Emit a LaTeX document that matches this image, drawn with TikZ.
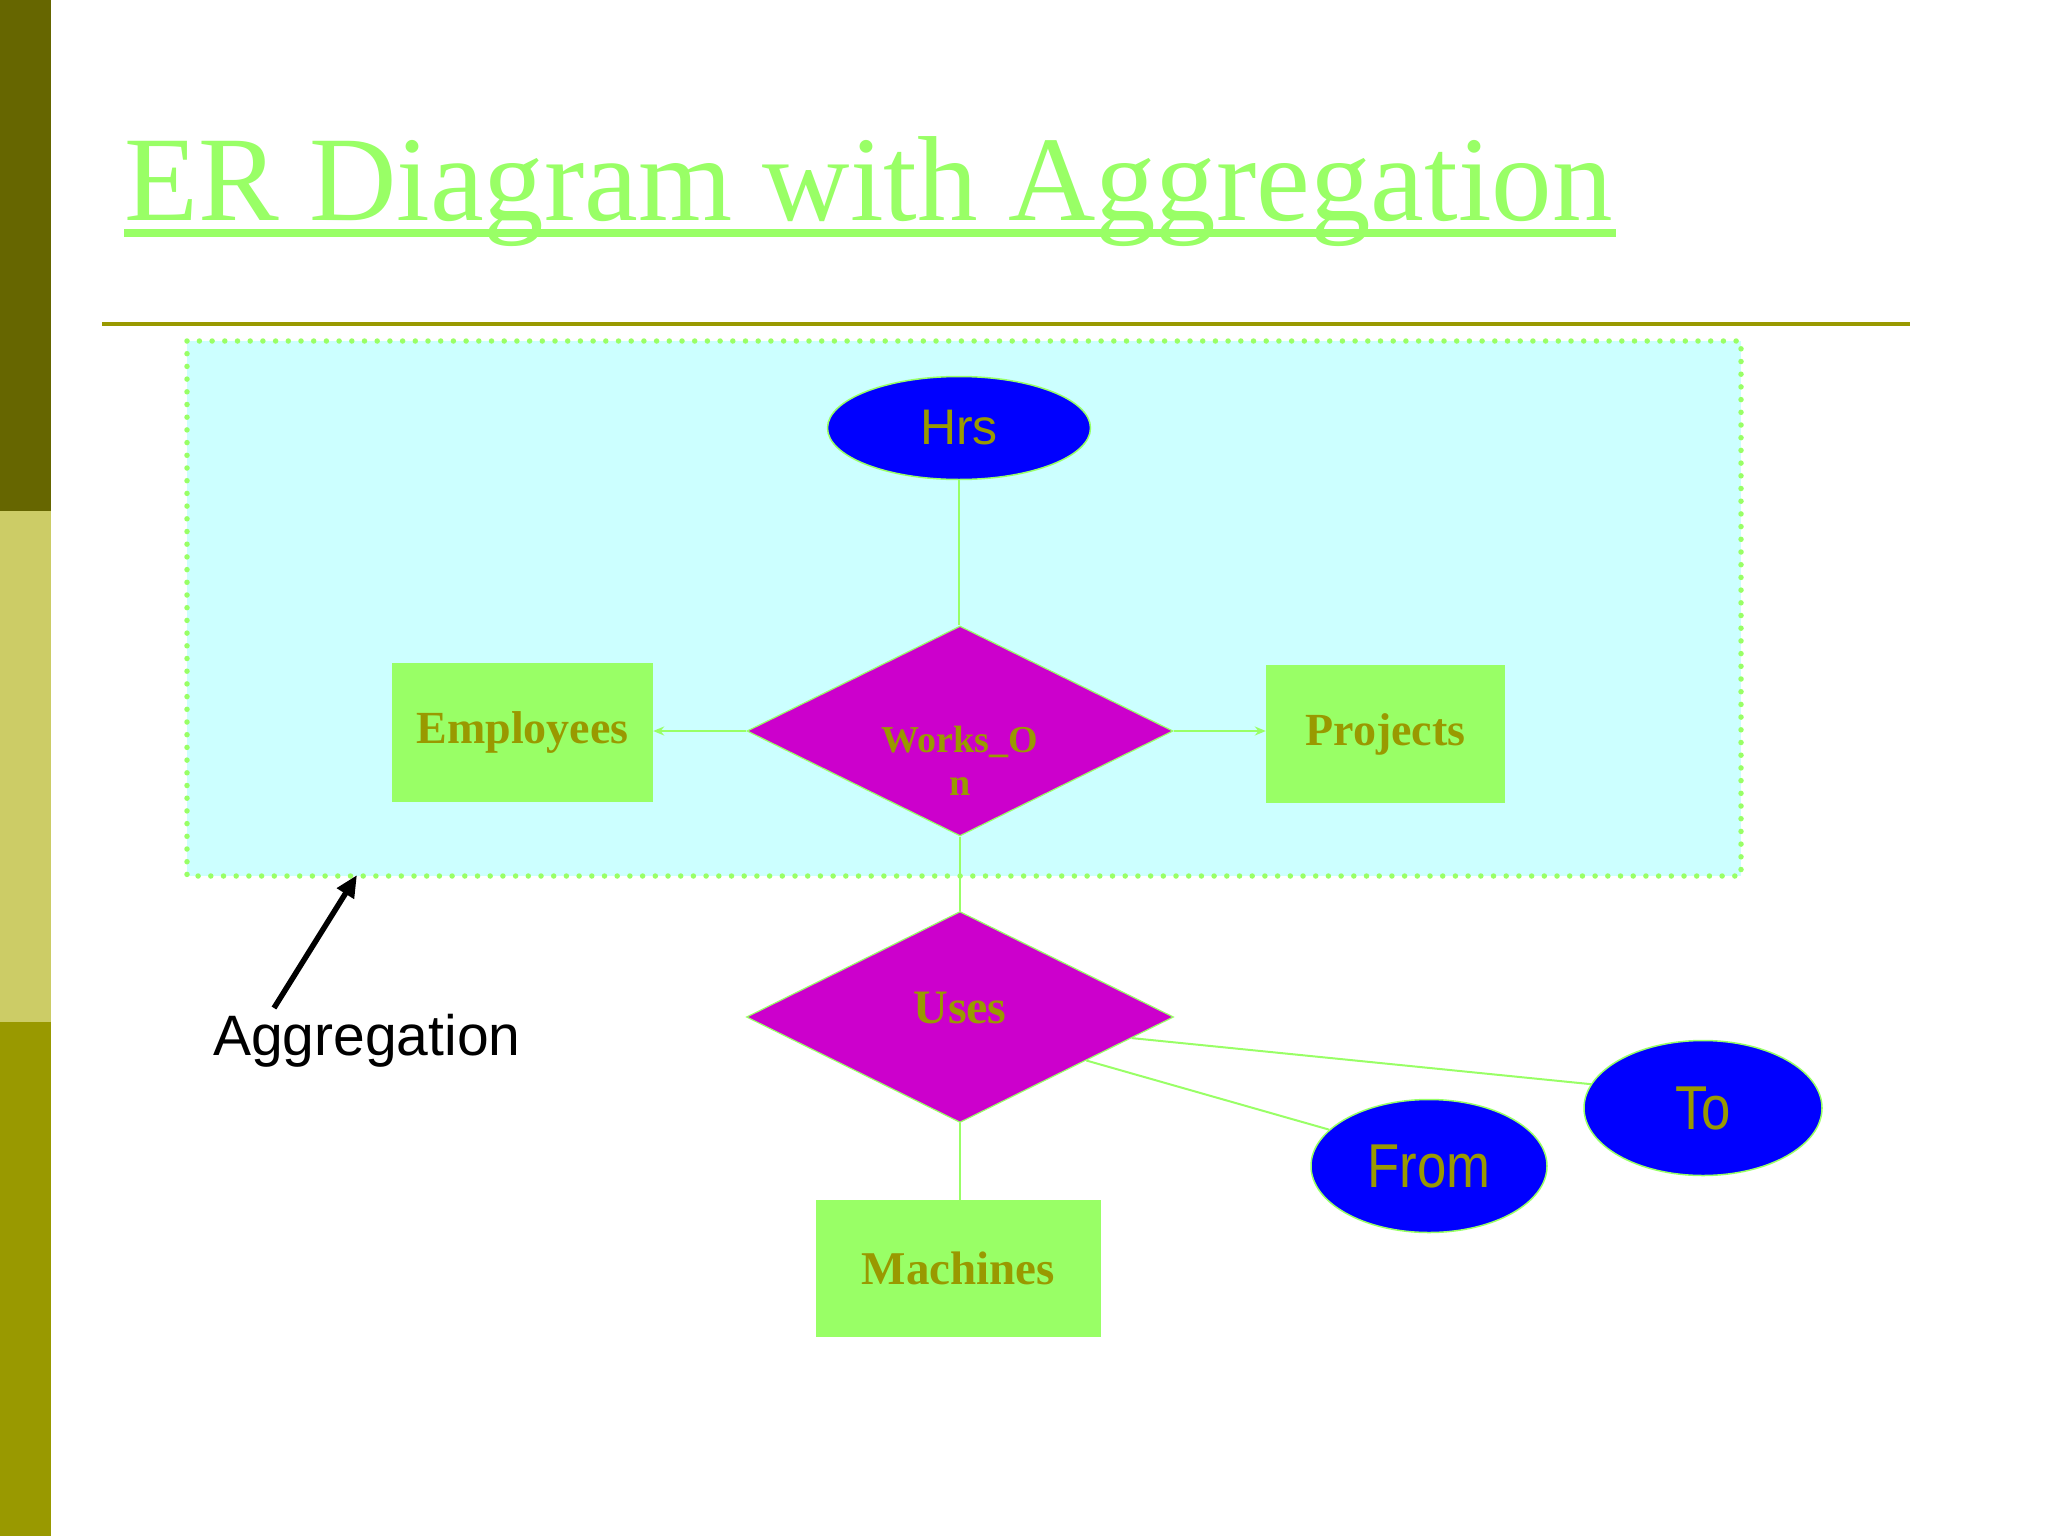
\documentclass[tikz,border=0pt]{standalone}
\usepackage{fontspec}
\usepackage{graphicx}
\setmainfont{Liberation Serif}
\newfontfamily\arialf{Liberation Sans}
\usetikzlibrary{shapes.geometric,arrows.meta}
\definecolor{erolive}{HTML}{999900}
\definecolor{darkolive}{HTML}{666600}
\definecolor{lightolive}{HTML}{CCCC66}
\definecolor{lgreen}{HTML}{99FF66}
\definecolor{entgreen}{HTML}{99FF66}
\definecolor{relmag}{HTML}{CC00CC}
\definecolor{attrblue}{HTML}{0000FF}
\definecolor{cyanbg}{HTML}{CCFFFF}
\begin{document}
\begin{tikzpicture}[x=1pt,y=-1pt,
  ent/.style={rectangle, fill=entgreen, inner sep=0pt, text=erolive,
    font=\fontsize{46}{50}\selectfont\bfseries},
  rel/.style={diamond, fill=relmag, draw=lgreen, line width=1.2pt, inner sep=0pt},
  rellabel/.style={inner sep=0pt, text=erolive, align=center},
  attr/.style={ellipse, fill=attrblue, draw=lgreen, line width=1.5pt, inner sep=0pt,
    text=erolive},
  conn/.style={draw=lgreen, line width=2pt},
  connarrow/.style={draw=lgreen, line width=2pt, -{Stealth[length=11pt,width=9pt]}},
]
\useasboundingbox (0,0) rectangle (2048,1536);
\fill[white] (0,0) rectangle (2048,1536);
% left bar
\fill[darkolive] (0,0) rectangle (51,511);
\fill[lightolive] (0,511) rectangle (51,1022);
\fill[erolive] (0,1022) rectangle (51,1536);
% title
\node[anchor=base west, inner sep=0pt, text=lgreen,
  font=\fontsize{121}{130}\selectfont] (title) at (124,220) {ER Diagram with Aggregation};
\fill[lgreen] (124,229) rectangle (1616,237);
% rule
\draw[erolive, line width=4pt] (102,324) -- (1910,324);
% aggregation box
\draw[fill=cyanbg, draw=lgreen, line width=5.5pt, dash pattern=on 0pt off 12.7pt,
  line cap=round] (187,341) rectangle (1741,876);
% nodes
\node[attr, minimum width=263pt, minimum height=103pt,
  font=\arialf\fontsize{50}{56}\selectfont] (hrs) at (959,428) {Hrs};
\node[ent, minimum width=261pt, minimum height=139pt] (emp) at (522.5,732.5) {Employees};
\node[ent, minimum width=239pt, minimum height=138pt] (proj) at (1385.5,734) {Projects};
\node[rel, minimum width=426pt, minimum height=210pt] (works) at (960,731) {};
\node[rellabel, font=\fontsize{38}{43}\selectfont\bfseries] (workslabel) at (960,761) {Works\_O\\n};
\node[rel, minimum width=427pt, minimum height=211pt] (uses) at (960,1017) {};
\node[rellabel, font=\fontsize{48}{52}\selectfont\bfseries] (useslabel) at (960,1008) {Uses};
\node[ent, minimum width=285pt, minimum height=137pt, font=\fontsize{47}{52}\selectfont\bfseries] (mach) at (958.5,1268.5) {Machines};
\node[attr, minimum width=236pt, minimum height=133pt,
  font=\arialf\fontsize{62}{68}\selectfont] (from) at (1429,1166) {\scalebox{0.85}[1]{From}};
\node[attr, minimum width=238pt, minimum height=135pt,
  font=\arialf\fontsize{62}{68}\selectfont] (to) at (1703,1108) {\scalebox{0.85}[1]{To}};
% connectors
\draw[conn] (hrs.south) -- (hrs.south |- works.north);
\draw[connarrow] (works.west) -- (works.west -| emp.east);
\draw[connarrow] (works.east) -- (works.east -| proj.west);
\draw[conn] (works.south) -- (uses.north);
\draw[conn] (uses.south) -- (uses.south |- mach.north);
\draw[conn] (uses.-7.5) -- (to.168.5);
\draw[conn] (uses.-19.8) -- (from.160);
% aggregation label
\node[anchor=base west, inner sep=0pt, font=\arialf\fontsize{57}{62}\selectfont] (agg) at (213,1055) {Aggregation};
\coordinate (aggtail) at (274,1008);
\coordinate (aggtip) at (357,875);
\draw[black, line width=5.5pt, -{Triangle[length=22pt,width=19pt]}] (aggtail) -- (aggtip);
\end{tikzpicture}
\end{document}
